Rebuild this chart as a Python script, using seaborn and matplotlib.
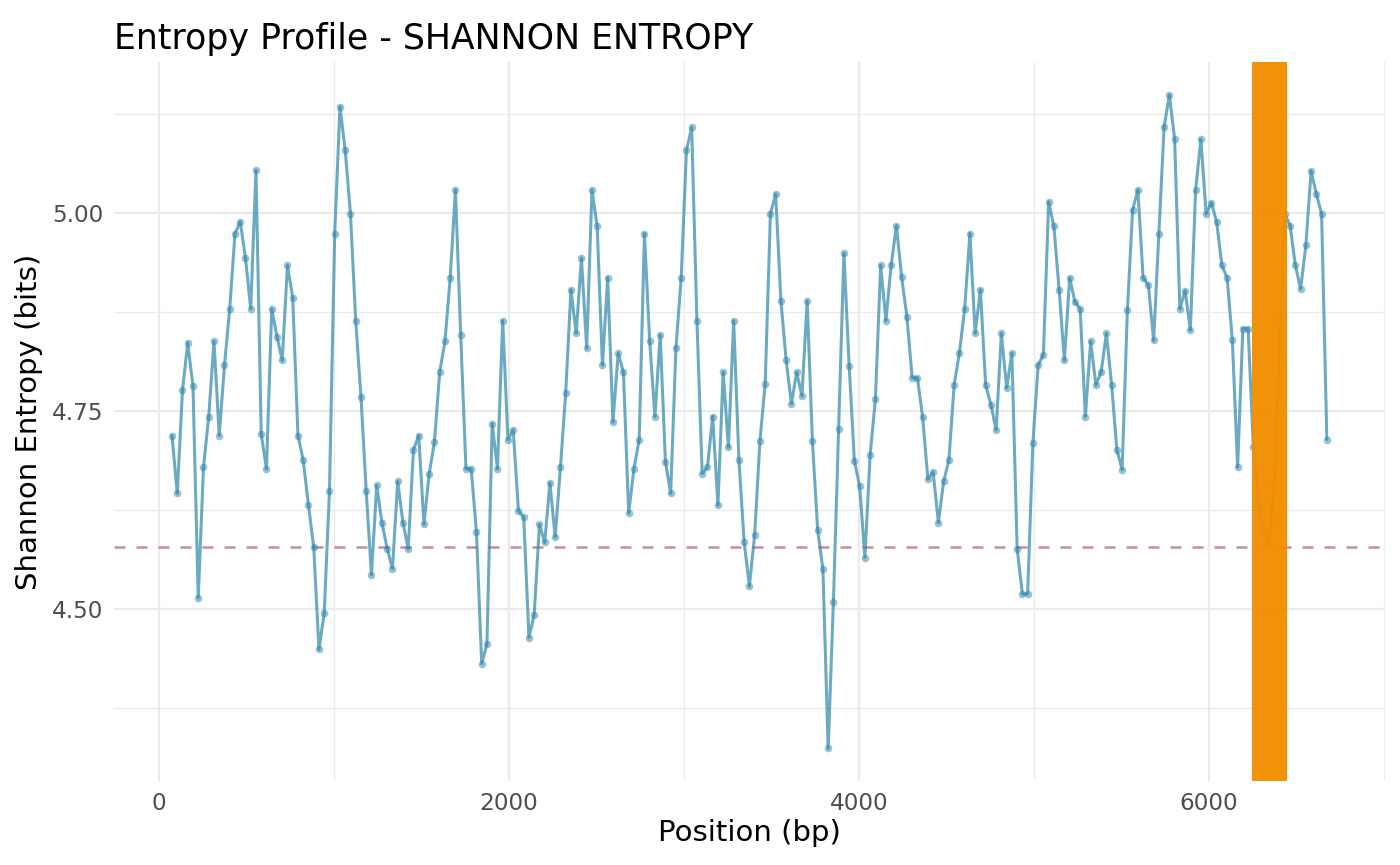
import numpy as np
import pandas as pd
import matplotlib
matplotlib.use("Agg")
import matplotlib.pyplot as plt
from matplotlib.ticker import MultipleLocator, FormatStrFormatter
import seaborn as sns

# sliding-window centres (bp) and Shannon entropy per window
positions = list(range(75, 6676, 30))
entropy = [
    4.719, 4.646, 4.776, 4.836, 4.781, 4.514, 4.679, 4.743, 4.838, 4.719,
    4.808, 4.879, 4.974, 4.989, 4.943, 4.879, 5.054, 4.721, 4.677, 4.879,
    4.844, 4.814, 4.934, 4.893, 4.719, 4.688, 4.631, 4.578, 4.449, 4.495,
    4.649, 4.974, 5.134, 5.079, 4.999, 4.864, 4.768, 4.649, 4.543, 4.656,
    4.609, 4.576, 4.551, 4.661, 4.609, 4.576, 4.701, 4.719, 4.607, 4.671,
    4.711, 4.799, 4.838, 4.918, 5.029, 4.846, 4.677, 4.677, 4.597, 4.431,
    4.456, 4.734, 4.677, 4.864, 4.714, 4.726, 4.624, 4.616, 4.464, 4.493,
    4.607, 4.584, 4.659, 4.591, 4.679, 4.773, 4.903, 4.848, 4.943, 4.829,
    5.029, 4.983, 4.808, 4.918, 4.736, 4.823, 4.799, 4.621, 4.677, 4.714,
    4.974, 4.838, 4.743, 4.846, 4.686, 4.646, 4.829, 4.918, 5.079, 5.108,
    4.864, 4.671, 4.679, 4.743, 4.631, 4.799, 4.704, 4.864, 4.688, 4.584,
    4.529, 4.594, 4.712, 4.784, 4.999, 5.024, 4.889, 4.814, 4.759, 4.799,
    4.769, 4.889, 4.712, 4.600, 4.550, 4.324, 4.509, 4.727, 4.949, 4.807,
    4.687, 4.655, 4.565, 4.695, 4.765, 4.934, 4.864, 4.934, 4.984, 4.919,
    4.869, 4.792, 4.792, 4.742, 4.664, 4.673, 4.609, 4.661, 4.688, 4.783,
    4.823, 4.879, 4.974, 4.848, 4.903, 4.783, 4.758, 4.726, 4.848, 4.779,
    4.823, 4.576, 4.519, 4.519, 4.710, 4.808, 4.821, 5.014, 4.983, 4.903,
    4.814, 4.918, 4.888, 4.879, 4.743, 4.838, 4.783, 4.799, 4.848, 4.783,
    4.701, 4.676, 4.877, 5.004, 5.029, 4.918, 4.909, 4.839, 4.973, 5.109,
    5.149, 5.093, 4.879, 4.902, 4.852, 5.029, 5.093, 4.999, 5.013, 4.989,
    4.934, 4.918, 4.839, 4.679, 4.854, 4.854, 4.704, 4.630, 4.600, 4.580,
    4.660, 4.830, 4.999, 4.984, 4.934, 4.904, 4.959, 5.053, 5.024, 4.999,
    4.714,
]
threshold = 4.578
region_start, region_end = 6250, 6450

df = pd.DataFrame({"position": positions, "entropy": entropy})

sns.set_theme(style="whitegrid")
plt.rcParams["font.family"] = ["DejaVu Sans"]

fig, ax = plt.subplots(figsize=(14, 8.65), dpi=100)
fig.subplots_adjust(left=0.0816, right=0.989, top=0.928, bottom=0.097)

ax.axhline(threshold, color="#A23B72", alpha=0.6, linewidth=1.8,
           dashes=(4.4, 4.4), zorder=2)
sns.lineplot(data=df, x="position", y="entropy", color="#2E86AB", alpha=0.7,
             linewidth=2.2, ax=ax, zorder=3)
sns.scatterplot(data=df, x="position", y="entropy", color="#2E86AB", alpha=0.5,
                s=30, linewidth=0, ax=ax, zorder=4)
ax.axvspan(region_start, region_end, color="#F18F01", alpha=0.97,
           linewidth=0, zorder=5)

# ggplot-like 5% expansion
xr = max(positions) - min(positions)
yr = max(entropy) - min(entropy)
ax.set_xlim(min(positions) - 0.05 * xr, max(positions) + 0.05 * xr)
ax.set_ylim(min(entropy) - 0.05 * yr, max(entropy) + 0.05 * yr)

ax.xaxis.set_major_locator(MultipleLocator(2000))
ax.xaxis.set_minor_locator(MultipleLocator(1000))
ax.yaxis.set_major_locator(MultipleLocator(0.25))
ax.yaxis.set_minor_locator(MultipleLocator(0.125))
ax.yaxis.set_major_formatter(FormatStrFormatter("%.2f"))

ax.grid(which="major", color="#EBEBEB", linewidth=1.6)
ax.grid(which="minor", color="#EBEBEB", linewidth=0.9)
ax.set_axisbelow(True)
sns.despine(ax=ax, left=True, bottom=True)

ax.tick_params(which="both", length=0, labelsize=16.7, labelcolor="#4D4D4D", pad=8)
ax.set_title("Entropy Profile - SHANNON ENTROPY", loc="left", fontsize=25,
             color="black", pad=9.4)
ax.set_xlabel("Position (bp)", fontsize=21, color="black", labelpad=3)
ax.set_ylabel("Shannon Entropy (bits)", fontsize=21, color="black", labelpad=6)

fig.savefig("out.png", dpi=100, facecolor="white")
